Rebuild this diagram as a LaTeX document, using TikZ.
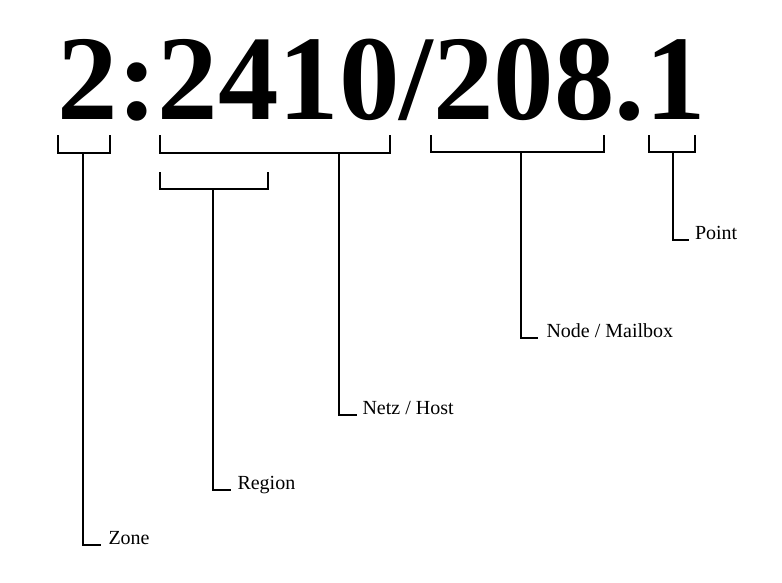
\documentclass[tikz,border=0pt]{standalone}
\usepackage{fontspec}
\setmainfont{Liberation Serif}
\begin{document}
\begin{tikzpicture}[x=1pt,y=-1pt,
  line width=2pt,
  bracket/.style={draw=black, line join=miter},
  conn/.style={draw=black},
  lbl/.style={inner sep=0pt, anchor=base west, font=\fontsize{20}{24}\selectfont},
  big/.style={inner sep=0pt, anchor=base west, font=\fontsize{121}{130}\selectfont\bfseries}]
\useasboundingbox[fill=white] (0,0) rectangle (782,582);
\node[big] (addr) at (56,119) {2:2410/208.1};
% brackets
\draw[bracket] (57.5,135) -- (57.5,152.5) -- (109.5,152.5) -- (109.5,135);
\coordinate (zb) at (83.3,152.5);
\draw[bracket] (159.5,135) -- (159.5,152.5) -- (389.5,152.5) -- (389.5,135);
\coordinate (nb) at (339,152.5);
\draw[bracket] (159.5,172) -- (159.5,188.5) -- (267.5,188.5) -- (267.5,172);
\coordinate (rb) at (212.7,188.5);
\draw[bracket] (431,135) -- (431,151.5) -- (603.5,151.5) -- (603.5,135);
\coordinate (mb) at (520.7,151.5);
\draw[bracket] (649,135) -- (649,151.5) -- (695,151.5) -- (695,135);
\coordinate (pb) at (673.3,151.5);
% labels
\node[lbl] (zone) at (107.5,544) {Zone};
\node[lbl] (region) at (236.5,489) {Region};
\node[lbl] (netz) at (361.5,414.5) {Netz / Host};
\node[lbl] (node) at (545.5,337.5) {Node / Mailbox};
\node[lbl] (point) at (694,239) {Point};
% connectors
\draw[conn] (zb) |- ([xshift=-6.5pt,yshift=-0.7pt]zone.base west);
\draw[conn] (rb) |- ([xshift=-5.5pt,yshift=-0.7pt]region.base west);
\draw[conn] (nb) |- ([xshift=-5pt,yshift=-0.7pt]netz.base west);
\draw[conn] (mb) |- ([xshift=-8pt,yshift=-0.7pt]node.base west);
\draw[conn] (pb) |- ([xshift=-5.5pt,yshift=-0.7pt]point.base west);
\end{tikzpicture}
\end{document}
